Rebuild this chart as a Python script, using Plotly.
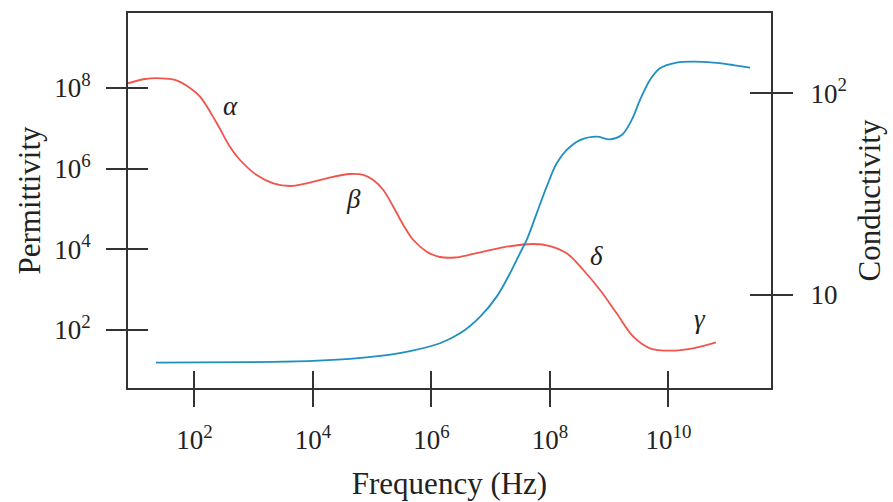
import numpy as np
import plotly.graph_objects as go

# ---- data (log10 of values) ----
perm_log_freq = [0.879, 1.166, 1.419, 1.673, 1.926, 2.095, 2.376, 2.601, 2.770, 3.051,
                 3.332, 3.614, 3.895, 4.233, 4.626, 4.851, 5.019, 5.188, 5.357, 5.526,
                 5.695, 5.921, 6.145, 6.398, 6.707, 7.271, 7.720, 8.002, 8.284, 8.564,
                 8.846, 9.127, 9.408, 9.689, 10.027, 10.415, 10.803]
perm_log_val = [8.118, 8.224, 8.242, 8.200, 8.001, 7.785, 7.132, 6.536, 6.213, 5.841,
                5.634, 5.567, 5.634, 5.759, 5.865, 5.841, 5.716, 5.468, 5.053, 4.599,
                4.226, 3.936, 3.804, 3.792, 3.879, 4.060, 4.127, 4.077, 3.896, 3.481,
                2.985, 2.406, 1.825, 1.537, 1.477, 1.537, 1.686]

cond_log_freq = [1.352, 2.095, 2.938, 4.002, 4.626, 5.132, 5.639, 6.145, 6.483, 6.820,
                 7.102, 7.327, 7.495, 7.608, 7.777, 7.946, 8.115, 8.284, 8.508, 8.790,
                 9.014, 9.212, 9.381, 9.521, 9.689, 9.858, 10.140, 10.420, 10.758, 11.095,
                 11.377]
cond_log_val = [0.665, 0.666, 0.667, 0.673, 0.683, 0.698, 0.722, 0.761, 0.810, 0.892,
                0.992, 1.108, 1.207, 1.273, 1.405, 1.537, 1.653, 1.719, 1.768, 1.785,
                1.772, 1.793, 1.868, 1.967, 2.066, 2.124, 2.152, 2.157, 2.152, 2.140,
                2.127]

x_tick_exp = [2, 4, 6, 8, 10]
perm_tick_exp = [2, 4, 6, 8]
cond_tick_vals = [10, 100]
cond_tick_text = ["10", "10<sup>2</sup>"]

region_labels = ["α", "β", "δ", "γ"]
region_label_logf = [2.609, 4.677, 8.790, 10.533]
region_label_logperm = [7.554, 5.245, 3.829, 2.265]

# ---- derived ----
perm_freq = np.power(10.0, perm_log_freq)
perm_val = np.power(10.0, perm_log_val)
cond_freq = np.power(10.0, cond_log_freq)
cond_val = np.power(10.0, cond_log_val)
x_tick_vals = [10.0 ** e for e in x_tick_exp]
x_tick_text = ["10<sup>%d</sup>" % e for e in x_tick_exp]
perm_tick_vals = [10.0 ** e for e in perm_tick_exp]
perm_tick_text = ["10<sup>%d</sup>" % e for e in perm_tick_exp]

FONT = "Liberation Serif"
AX = "#333333"
RED = "#f0544c"
BLUE = "#1f8fc2"

x_range = [0.879, 11.732]
y_range = [0.551, 9.863]
y2_range = [0.539, 2.398]

fig = go.Figure()
fig.add_trace(go.Scatter(x=perm_freq, y=perm_val, mode="lines",
                         line=dict(color=RED, width=1.8, shape="spline", smoothing=1.0),
                         xaxis="x", yaxis="y", showlegend=False, name="Permittivity"))
fig.add_trace(go.Scatter(x=cond_freq, y=cond_val, mode="lines",
                         line=dict(color=BLUE, width=1.8, shape="spline", smoothing=1.0),
                         xaxis="x", yaxis="y2", showlegend=False, name="Conductivity"))
# invisible helper traces so the inner-tick overlay axes are drawn
fig.add_trace(go.Scatter(x=perm_freq, y=perm_val, mode="lines", opacity=0,
                         xaxis="x2", yaxis="y", showlegend=False, hoverinfo="skip"))
fig.add_trace(go.Scatter(x=perm_freq, y=perm_val, mode="lines", opacity=0,
                         xaxis="x", yaxis="y3", showlegend=False, hoverinfo="skip"))
fig.add_trace(go.Scatter(x=cond_freq, y=cond_val, mode="lines", opacity=0,
                         xaxis="x", yaxis="y4", showlegend=False, hoverinfo="skip"))

common = dict(showgrid=False, zeroline=False, tickcolor=AX, tickwidth=1.6, automargin=False)
tickfont = dict(family=FONT, size=27, color="#222222")
titlefont = dict(family=FONT, size=31, color="#222222")

for lbl, lx, ly in zip(region_labels, region_label_logf, region_label_logperm):
    fig.add_annotation(x=lx, y=ly, xref="x", yref="y", text="<i>%s</i>" % lbl,
                       showarrow=False, font=dict(family=FONT, size=27, color="#222222"))

fig.update_layout(
    width=893, height=502,
    margin=dict(l=128, r=122, t=13, b=114, autoexpand=False),
    paper_bgcolor="white", plot_bgcolor="white",
    xaxis=dict(type="log", range=x_range, tickvals=x_tick_vals, ticktext=x_tick_text,
               ticks="outside", ticklen=17, showline=True, linecolor=AX, linewidth=1.6,
               mirror=True, tickfont=tickfont, ticklabelstandoff=10,
               title=dict(text="Frequency (Hz)", font=titlefont, standoff=18), **common),
    xaxis2=dict(type="log", range=x_range, overlaying="x", side="bottom", anchor="y",
                tickvals=x_tick_vals, ticks="inside", ticklen=17, showticklabels=False,
                showline=False, **common),
    yaxis=dict(type="log", range=y_range, tickvals=perm_tick_vals, ticktext=perm_tick_text,
               ticks="outside", ticklen=20, showline=True, linecolor=AX, linewidth=1.6,
               mirror=True, tickfont=tickfont, ticklabelstandoff=10,
               title=dict(text="Permittivity", font=titlefont, standoff=4), **common),
    yaxis2=dict(type="log", range=y2_range, overlaying="y", side="right", anchor="x",
                tickvals=cond_tick_vals, ticktext=cond_tick_text, ticks="outside", ticklen=21,
                showline=False, tickfont=tickfont, ticklabelstandoff=12,
                title=dict(text="Conductivity", font=titlefont, standoff=12), **common),
    yaxis3=dict(type="log", range=y_range, overlaying="y", side="left", anchor="x",
                tickvals=perm_tick_vals, ticks="inside", ticklen=20, showticklabels=False,
                showline=False, **common),
    yaxis4=dict(type="log", range=y2_range, overlaying="y", side="right", anchor="x",
                tickvals=cond_tick_vals, ticks="inside", ticklen=21, showticklabels=False,
                showline=False, **common),
)

fig.write_html("out.html")
